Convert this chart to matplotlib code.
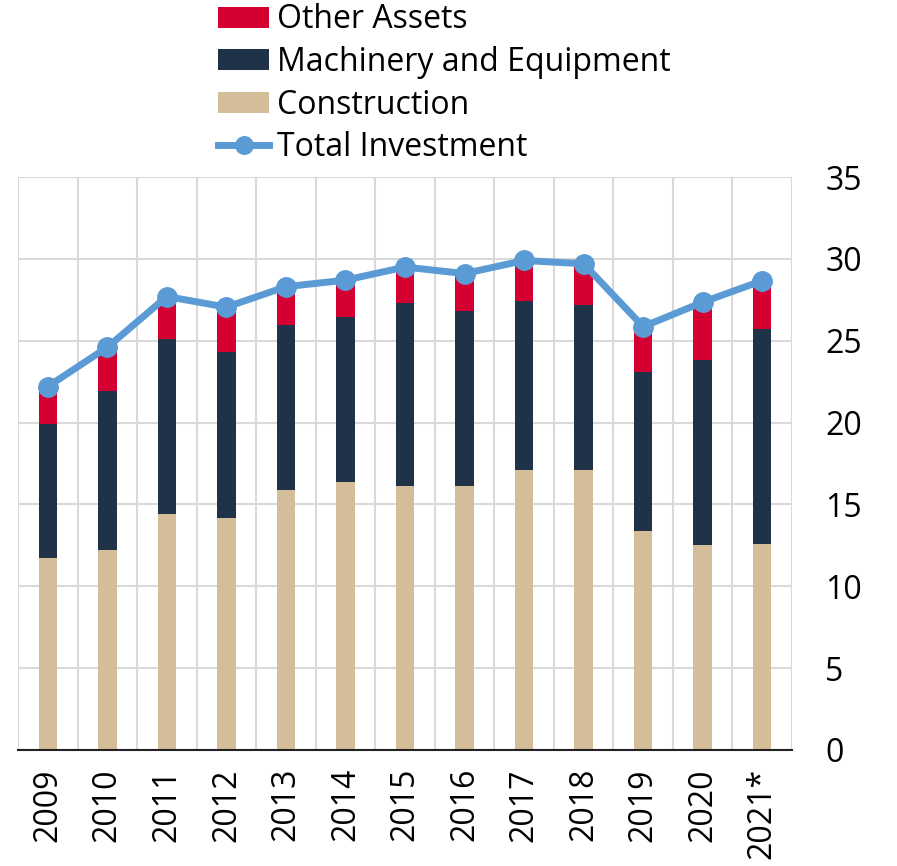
import matplotlib
matplotlib.use("Agg")
import matplotlib.pyplot as plt
import numpy as np
from matplotlib.ticker import FixedLocator

plt.rcParams['font.family'] = ['Open Sans', 'DejaVu Sans']

years = ["2009", "2010", "2011", "2012", "2013", "2014", "2015", "2016",
         "2017", "2018", "2019", "2020", "2021*"]
construction = [11.7, 12.2, 14.4, 14.2, 15.9, 16.4, 16.1, 16.1, 17.1, 17.1, 13.4, 12.5, 12.6]
machinery = [8.2, 9.7, 10.7, 10.1, 10.05, 10.05, 11.2, 10.7, 10.3, 10.1, 9.67, 11.3, 13.1]
other = [2.3, 2.7, 2.6, 2.7, 2.35, 2.25, 2.2, 2.3, 2.5, 2.5, 2.79, 3.6, 2.97]
total = [22.2, 24.6, 27.7, 27.05, 28.3, 28.7, 29.5, 29.1, 29.9, 29.7, 25.86, 27.35, 28.67]

c_con = "#D4BE9A"
c_mach = "#1F3247"
c_oth = "#D50032"
c_line = "#5B9BD5"

fig = plt.figure(figsize=(8.97, 8.66), dpi=100)
ax = fig.add_axes([18/897, 116/866, (792-18)/897, (750-177)/866])

x = np.arange(len(years))
w = 0.31
con = np.array(construction)
mac = np.array(machinery)
oth = np.array(other)
b1 = ax.bar(x, con, w, color=c_con, label="Construction", zorder=2)
b2 = ax.bar(x, mac, w, bottom=con, color=c_mach, label="Machinery and Equipment", zorder=2)
b3 = ax.bar(x, oth, w, bottom=con + mac, color=c_oth, label="Other Assets", zorder=2)
ln, = ax.plot(x, total, color=c_line, lw=5, marker="o", ms=14, label="Total Investment", zorder=3)

ax.set_xlim(-0.5, len(years) - 0.5)
ax.set_ylim(0, 35)
ax.set_yticks(np.arange(0, 36, 5))
ax.yaxis.tick_right()
ax.tick_params(axis="y", length=0, labelsize=23, pad=24)
ax.set_xticks(x)
ax.set_xticklabels(years, rotation=90, fontsize=23)
ax.tick_params(axis="x", length=0, pad=13)
ax.xaxis.set_minor_locator(FixedLocator(np.arange(-0.5, len(years), 1.0)))
ax.tick_params(axis="x", which="minor", length=0)
ax.grid(axis="y", color="#d9d9d9", lw=1.5, zorder=0)
ax.grid(axis="x", which="minor", color="#d9d9d9", lw=1.5, zorder=0)
ax.set_axisbelow(True)
for s in ["left", "right", "top"]:
    ax.spines[s].set_visible(False)
ax.spines["bottom"].set_color("#222222")
ax.spines["bottom"].set_linewidth(1.5)
ax.spines["bottom"].set_zorder(4)

fig.legend([b3, b2, b1, ln], ["Other Assets", "Machinery and Equipment", "Construction", "Total Investment"],
           loc="upper left", bbox_to_anchor=(218/897, 0.996), frameon=False, fontsize=23,
           handlelength=1.6, handleheight=0.62, handletextpad=0.25, labelspacing=0.3,
           borderaxespad=0, borderpad=0, markerscale=0.9)

fig.savefig("out.png", dpi=100)
